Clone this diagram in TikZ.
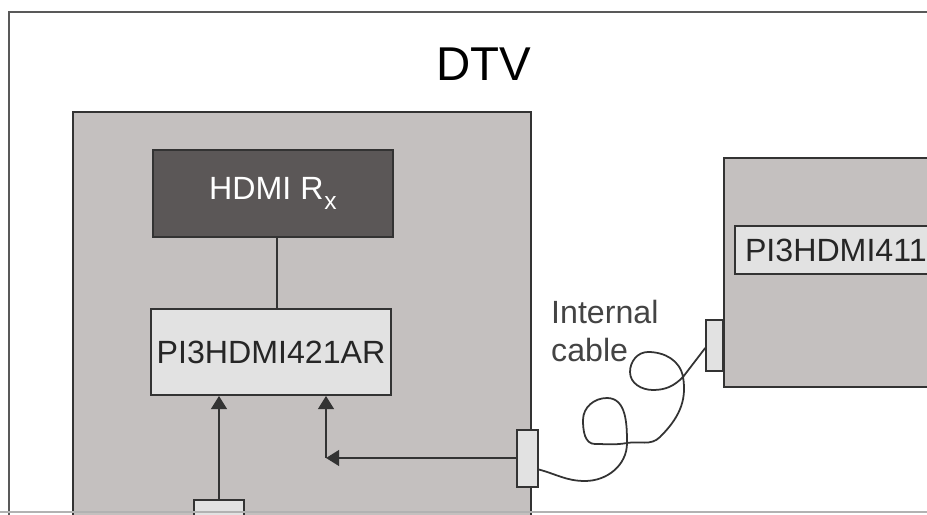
\documentclass[tikz,border=0pt]{standalone}
\usepackage{fontspec}
\setmainfont{Liberation Sans}
\usetikzlibrary{arrows.meta, positioning}

\definecolor{boardgray}{HTML}{C4C0BF}
\definecolor{chipdark}{HTML}{5B5757}
\definecolor{chiplight}{HTML}{E2E2E2}
\definecolor{linegray}{HTML}{333333}
\definecolor{labelgray}{HTML}{444444}

\tikzset{
  board/.style={draw=linegray, line width=1.1pt, fill=boardgray, inner sep=0pt},
  chip/.style={draw=linegray, line width=1.1pt, fill=chiplight, inner sep=0pt,
    text=black!85, font=\fontsize{18.3}{21}\selectfont},
  plug/.style={draw=linegray, line width=0.9pt, fill=chiplight, inner sep=0pt},
  wire/.style={draw=linegray, line width=1.2pt},
  sig/.style={wire, -{Triangle[length=7.5pt,width=9pt]}},
  cable/.style={draw=linegray, line width=1pt},
}

\begin{document}
\begin{tikzpicture}
\useasboundingbox (0,0) rectangle (18.54,10.28);
\clip (0,0) rectangle (18.54,10.28);

% Outer frame and title
\draw[black!65, line width=1.2pt] (0.18,-0.5) -- (0.18,10.04) -- (19,10.04);
\node[font=\fontsize{27}{30}\selectfont] (dtv) at (9.67,8.99) {DTV};

% DTV main board
\node[board, minimum width=9.16cm, minimum height=8.54cm] (dtvboard) at (6.04,3.77) {};
\node[chip, fill=chipdark, text=white, minimum width=4.8cm, minimum height=1.74cm]
  (rx) at (5.46,6.41) {HDMI R\kern0.5pt\raisebox{-0.6ex}{\fontsize{14}{14}\selectfont x}};
\node[chip, minimum width=4.8cm, minimum height=1.72cm] (pi421) at (5.42,3.24) {PI3HDMI421AR};

% Connectors of the DTV board
\node[plug, minimum width=1.0cm, minimum height=0.6cm] (bc) at (4.38,-0.02) {};
\node[plug, minimum width=0.42cm, minimum height=1.14cm] (rc) at (10.55,1.11) {};
\coordinate (corner) at (6.52,1.12);

% Signals on the board
\draw[wire] ([xshift=0.08cm]rx.south) -- ([xshift=0.08cm]rx.south |- pi421.north);
\draw[sig] (bc.north) -- (bc.north |- pi421.south);
\draw[sig] (rc.west |- corner) -- (corner);
\draw[sig] (corner) -- (corner |- pi421.south);

% Second board on the right
\node[board, minimum width=4.72cm, minimum height=4.58cm] (devboard) at (16.84,4.83) {};
\node[chip, minimum height=0.96cm, text width=3.9cm, inner xsep=0.2cm, align=left]
  (pi411) at (16.85,5.28) {PI3HDMI411};
\node[plug, minimum width=0.34cm, minimum height=1.02cm] (dc) at (14.29,3.37) {};

% Internal cable between the boards
\node[anchor=west, align=left, text=labelgray, font=\fontsize{18.3}{21.5}\selectfont]
  (cablelabel) at (10.9,3.66) {Internal\\cable};
\draw[cable] ([yshift=-0.05cm]dc.west) -- (13.66,2.74)
  to[out=225,in=0] (13.06,2.48) to[out=180,in=270] (12.6,2.84)
  to[out=90,in=180] (12.96,3.24) to[out=0,in=100] (13.66,2.74)
  to[out=-80,in=45] (13.2,1.54) to[out=225,in=10] (12.54,1.42)
  to[out=190,in=0] (11.9,1.40) to[out=180,in=270] (11.66,1.88)
  to[out=90,in=180] (12.14,2.32) to[out=0,in=90] (12.54,1.42)
  to[out=270,in=0] (11.7,0.66) to[out=180,in=-15] ([yshift=-0.22cm]rc.east);

% Bottom edge of the frame
\draw[black!30, line width=1pt] (0,0.04) -- (18.54,0.04);
\end{tikzpicture}
\end{document}
